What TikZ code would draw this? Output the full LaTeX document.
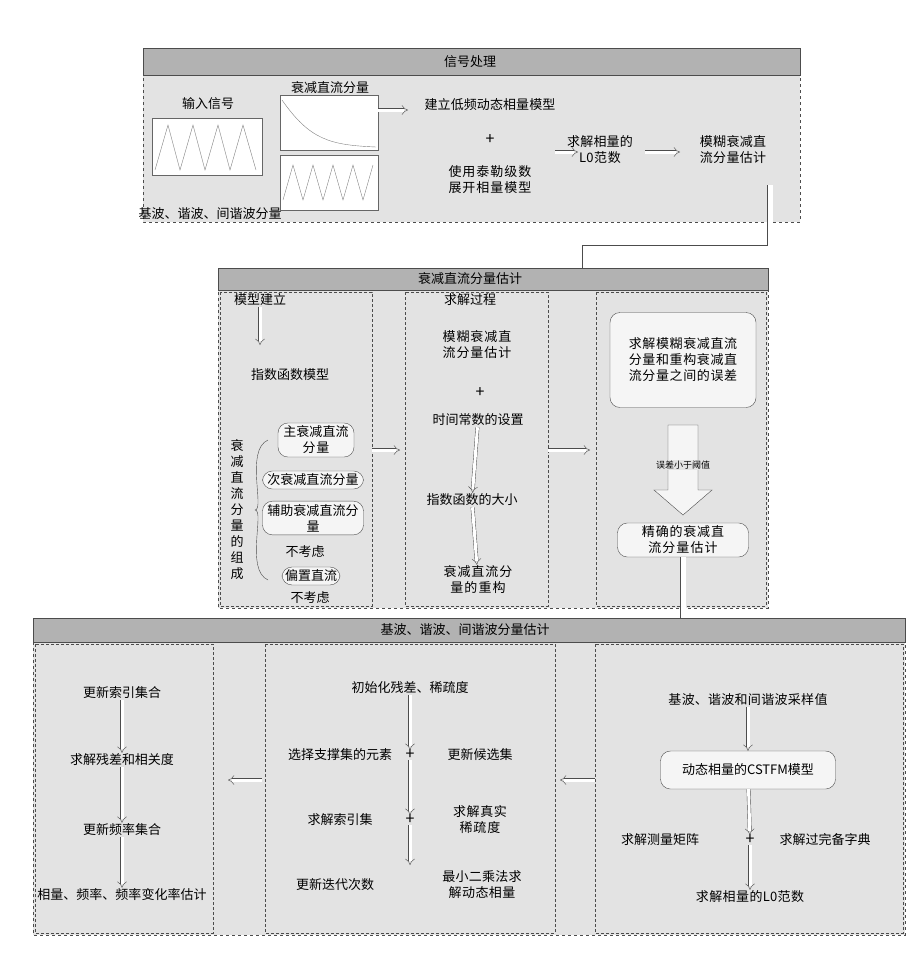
\documentclass[tikz,border=0pt]{standalone}
\usepackage{fontspec}
\setmainfont{Noto Sans CJK SC}
\XeTeXlinebreaklocale "zh"
\XeTeXlinebreakskip=0pt plus 1pt
\usetikzlibrary{arrows.meta,decorations.pathreplacing}
\begin{document}
\begin{tikzpicture}[x=1pt,y=-1pt,
  panel/.style={draw=black!70,dashed,fill=gray!22},
  colbox/.style={draw=black!70,densely dashed,thick},
  bar/.style={draw=black!70,fill=gray!60},
  txt/.style={font=\fontsize{13}{16}\selectfont,align=center,inner sep=1pt},
  rbox/.style={txt,draw=black!70,rounded corners=10pt,fill=gray!8,inner sep=3pt},
  darr/.style={draw=black!70,double,double distance=3pt,-{Implies}},
  plus/.style={font=\fontsize{16}{16}\selectfont,inner sep=0pt}]
\useasboundingbox (0,0) rectangle (922,959);
% ---------- panel 1
\draw[panel] (143,48) rectangle (800,222);
\draw[bar] (143,48) rectangle (800,75);
\node[txt] (t1) at (470,62) {信号处理};
\node[txt] (in) at (208,104) {输入信号};
\draw[fill=white,draw=black!60] (152,118) rectangle (262,175);
\draw[gray] (155,170) -- (168,125) -- (180,170) -- (193,125) -- (205,170) -- (218,125) -- (230,170) -- (243,125) -- (256,170);
\node[txt] (dc) at (330,88) {衰减直流分量};
\draw[fill=white,draw=black!60] (280,95) rectangle (378,150);
\draw[gray] (282,100) .. controls (310,140) and (330,145) .. (376,147);
\draw[fill=white,draw=black!60] (280,155) rectangle (378,210);
\draw[gray] (283,200) -- (293,165) -- (303,200) -- (313,165) -- (323,200) -- (333,165) -- (343,200) -- (353,165) -- (363,200) -- (373,165);
\node[txt] (hw) at (210,214) {基波、谐波、间谐波分量};
\node[txt,text width=135pt] (m1) at (490,105) {建立低频动态相量模型};
\node[plus] (p1) at (490,140) {+};
\node[txt,text width=135pt] (m2) at (490,180) {使用泰勒级数展开相量模型};
\draw[darr] (378,110) -- (408,110);
\node[txt,text width=75pt] (l0) at (600,150) {求解相量的\\L0范数};
\draw[darr] (555,152) -- (578,152);
\node[txt,text width=80pt] (fz) at (733,150) {模糊衰减直流分量估计};
\draw[darr] (645,152) -- (680,152);
% connector panel1 -> panel2
\draw[draw=black!70,double,double distance=5pt,-{Implies}] (770,185) -- (770,248) -- (585,248) -- (585,300) -- (560,300);
% ---------- panel 2
\draw[panel] (218,268) rectangle (768,608);
\draw[bar] (218,268) rectangle (768,290);
\node[txt] (t2) at (470,279) {衰减直流分量估计};
\draw[colbox] (220,292) rectangle (372,606);
\draw[colbox] (405,292) rectangle (548,606);
\draw[colbox] (596,292) rectangle (766,606);
\node[txt] (mj) at (260,300) {模型建立};
\node[txt] (zs) at (290,375) {指数函数模型};
\draw[darr] (mj) -- (260,345);
\node[rbox,text width=70pt] (a1) at (316,440) {主衰减直流\\分量};
\node[rbox,text width=95pt] (a2) at (313,480) {次衰减直流分量};
\node[rbox,text width=95pt] (a3) at (313,518) {辅助衰减直流分\\量};
\node[txt] (n1) at (305,552) {不考虑};
\node[rbox] (a4) at (311,576) {偏置直流};
\node[txt] (n2) at (310,598) {不考虑};
\draw[black!70] (268,440) .. controls (245,450) and (265,510) .. (255,510) .. controls (265,510) and (245,570) .. (268,580);
\node[txt,text width=13pt] (vt) at (237,510) {衰减直流分量的组成};
\draw[darr] (372,450) -- (400,450);
\node[txt] (qj) at (470,300) {求解过程};
\node[txt,text width=115pt] (b1) at (477,345) {模糊衰减直流分量估计};
\node[plus] (p2) at (480,393) {+};
\node[txt] (b2) at (478,420) {时间常数的设置};
\node[txt] (b3) at (472,500) {指数函数的大小};
\node[txt,text width=115pt] (b4) at (478,580) {衰减直流分量的重构};
\draw[darr] (b2) -- (b3);
\draw[darr] (b3) -- (b4);
\draw[darr] (548,450) -- (590,450);
\node[rbox,text width=140pt,minimum height=95pt] (c1) at (683,360) {求解模糊衰减直流分量和重构衰减直流分量之间的误差};
\node[rbox,text width=125pt] (c2) at (683,540) {精确的衰减直流分量估计};
\draw[black!70,fill=gray!8] (668,425) -- (698,425) -- (698,490) -- (712,490) -- (683,515) -- (654,490) -- (668,490) -- cycle;
\node[txt,font=\fontsize{9}{10}\selectfont,fill=gray!22] (er) at (683,465) {误差小于阈值};
% connector panel2 -> panel3
\draw[draw=black!70,double,double distance=5pt,-{Implies}] (c2) -- (683,635);
% ---------- panel 3
\draw[panel] (33,618) rectangle (905,935);
\draw[bar] (33,618) rectangle (905,642);
\node[txt] (t3) at (465,630) {基波、谐波、间谐波分量估计};
\draw[colbox] (35,644) rectangle (213,933);
\draw[colbox] (265,644) rectangle (555,933);
\draw[colbox] (595,644) rectangle (903,933);
\node[txt,text width=175pt] (r1) at (748,700) {基波、谐波和间谐波采样值};
\node[rbox,minimum width=175pt,minimum height=38pt] (r2) at (748,770) {动态相量的CSTFM模型};
\node[plus] (rp) at (750,840) {+};
\node[txt] (r3) at (660,840) {求解测量矩阵};
\node[txt] (r4) at (825,840) {求解过完备字典};
\node[txt,text width=130pt] (r5) at (750,897) {求解相量的L0范数};
\draw[darr] (r1) -- (r2);
\draw[darr] (r2) -- (rp);
\draw[darr] (rp) -- (r5);
\draw[darr] (595,780) -- (560,780);
\node[txt] (m1a) at (410,688) {初始化残差、稀疏度};
\node[plus] (mp1) at (410,755) {+};
\node[txt] (m2a) at (340,755) {选择支撑集的元素};
\node[txt] (m3a) at (480,755) {更新候选集};
\node[plus] (mp2) at (410,820) {+};
\node[txt] (m4a) at (340,820) {求解索引集};
\node[txt,text width=85pt] (m5a) at (480,820) {求解真实稀疏度};
\node[txt] (m6a) at (335,885) {更新迭代次数};
\node[txt,text width=92pt] (m7a) at (482,885) {最小二乘法求解动态相量};
\draw[darr] (m1a) -- (mp1);
\draw[darr] (mp1) -- (mp2);
\draw[darr] (mp2) -- (410,865);
\draw[darr] (262,780) -- (228,780);
\node[txt] (l1) at (122,693) {更新索引集合};
\node[txt] (l2) at (122,760) {求解残差和相关度};
\node[txt] (l3) at (122,830) {更新频率集合};
\node[txt,text width=170pt] (l4) at (122,895) {相量、频率、频率变化率估计};
\draw[darr] (l1) -- (l2);
\draw[darr] (l2) -- (l3);
\draw[darr] (l3) -- (l4);
\end{tikzpicture}
\end{document}
